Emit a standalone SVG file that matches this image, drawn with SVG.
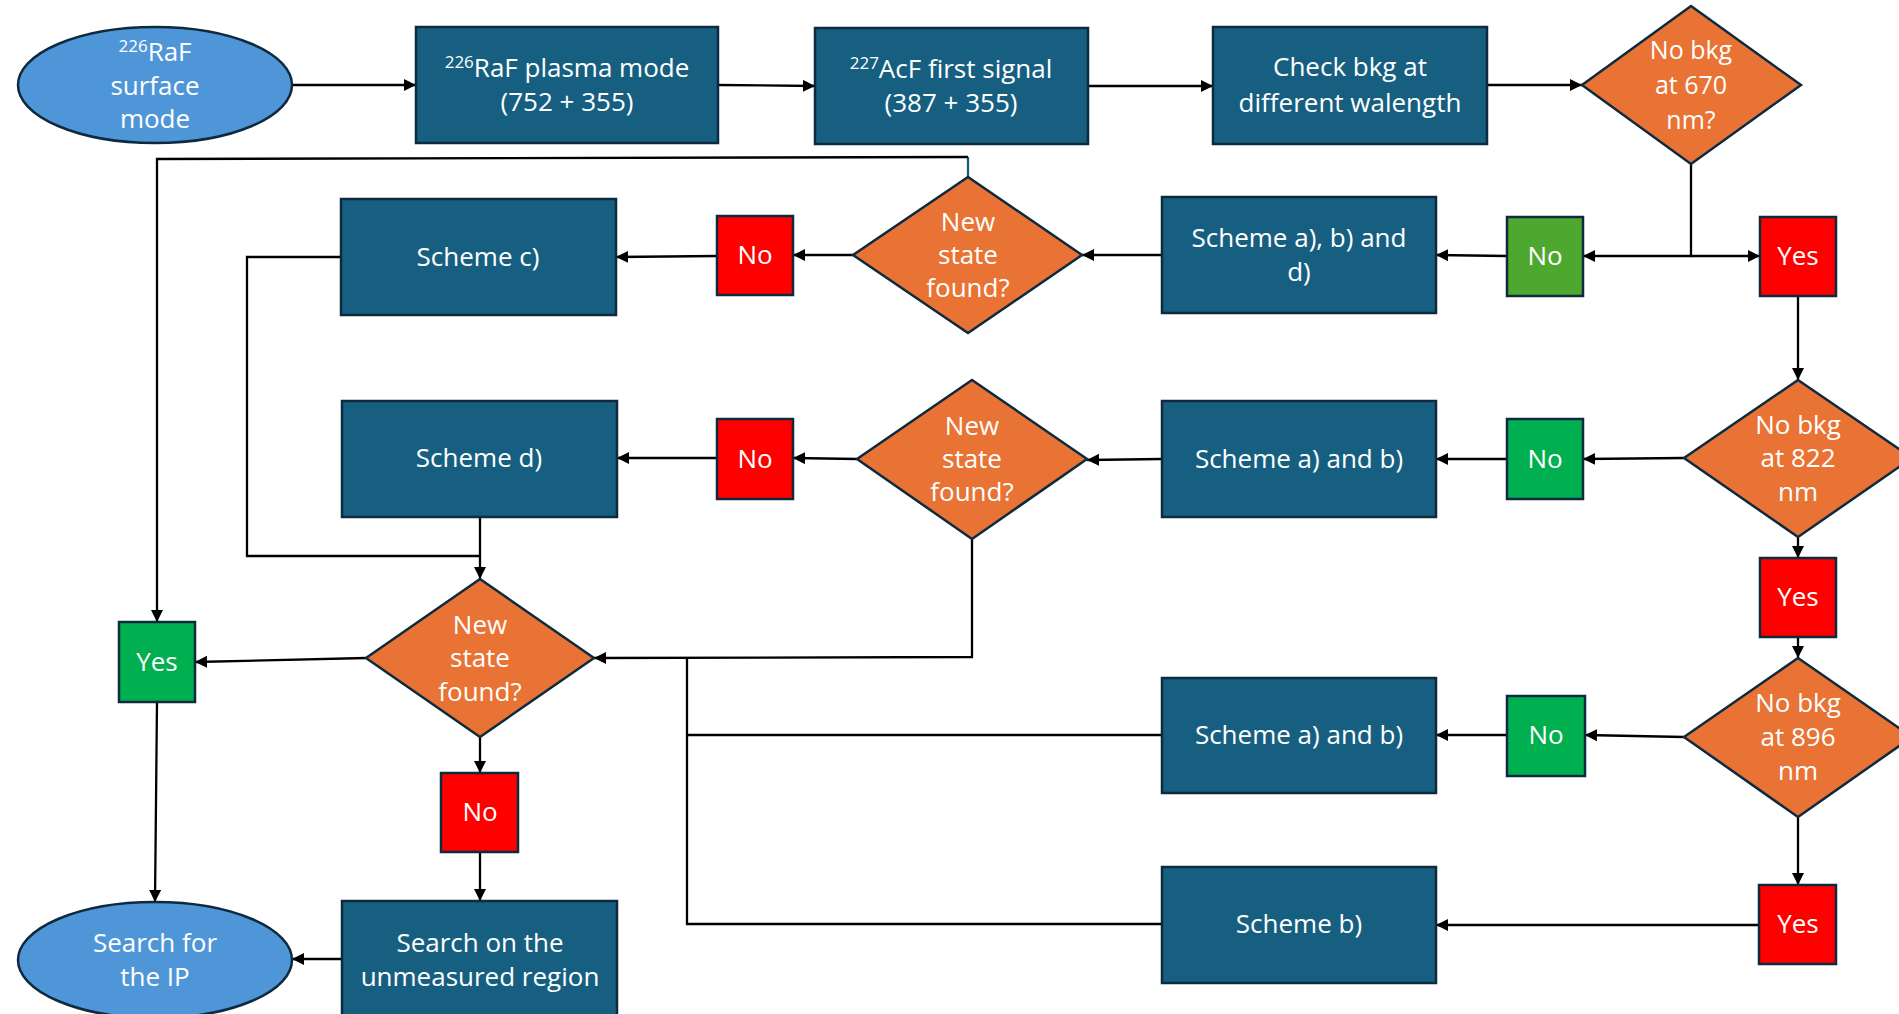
<svg xmlns="http://www.w3.org/2000/svg" width="1899" height="1014" viewBox="0 0 1899 1014">
<style>
.box{fill:#175F81;stroke:#0E2A3F;stroke-width:2.5}
.dia{fill:#E97334;stroke:#0E2A3F;stroke-width:2.5}
.ell{fill:#4F96D9;stroke:#0E2A3F;stroke-width:2.5}
.red{fill:#FF0000;stroke:#0E2A3F;stroke-width:2.5}
.grn{fill:#00B050;stroke:#0E2A3F;stroke-width:2.5}
.olv{fill:#4EA72E;stroke:#0E2A3F;stroke-width:2.5}
text{font-family:"Open Sans","Liberation Sans",sans-serif;font-size:26px;fill:#FFFFFF;text-anchor:middle}
.sup{font-size:17px}
.sm{font-size:25px}
.c{fill:none;stroke:#000;stroke-width:2.3}
.a{marker-end:url(#arr)}
</style>
<defs>
<marker id="arr" markerUnits="userSpaceOnUse" markerWidth="13" markerHeight="13" refX="12" refY="6" orient="auto">
<path d="M0,0 L12,6 L0,12 z" fill="#000"/>
</marker>
</defs>
<rect width="1899" height="1014" fill="#FFFFFF"/>

<g id="connectors">
<path class="c a" d="M292,85 H416"/>
<path class="c a" d="M718,85 L815,86"/>
<path class="c a" d="M1088,86 H1213"/>
<path class="c a" d="M1487,85 H1582"/>
<path class="c a" d="M1691,164 V256 H1583"/>
<path class="c a" d="M1691,256 H1760"/>
<path class="c a" d="M1507,256 L1436,255"/>
<path class="c a" d="M1162,255 H1082"/>
<path class="c a" d="M853,255 H793"/>
<path class="c a" d="M717,256 L616,257"/>
<path class="c" d="M341,257 H247 V556 H480"/>
<path fill="none" stroke="#175F81" stroke-width="2.3" d="M968,177 V157"/>
<path class="c a" d="M968,157 L157,159 V622"/>
<path class="c a" d="M1798,296 V380"/>
<path class="c a" d="M1684,458 L1583,459"/>
<path class="c a" d="M1507,459 H1436"/>
<path class="c a" d="M1162,459 L1087,460"/>
<path class="c a" d="M857,459 L793,458"/>
<path class="c a" d="M717,458 H617"/>
<path class="c a" d="M480,517 V579"/>
<path class="c a" d="M366,658 L195,662"/>
<path class="c a" d="M972,539 V657 L594,658"/>
<path class="c" d="M1162,735 H687"/>
<path class="c" d="M1162,924 H687 V657"/>
<path class="c a" d="M1798,537 V558"/>
<path class="c a" d="M1798,637 V658"/>
<path class="c a" d="M1684,737 L1585,735"/>
<path class="c a" d="M1507,735 H1436"/>
<path class="c a" d="M1798,817 V885"/>
<path class="c a" d="M1759,925 H1436"/>
<path class="c a" d="M480,737 V773"/>
<path class="c a" d="M480,852 V901"/>
<path class="c a" d="M342,959 H292"/>
<path class="c a" d="M157,702 L155,902"/>
</g>

<g id="n-raf-surface">
<ellipse class="ell" cx="155" cy="85" rx="137" ry="58"/>
<text x="155" y="61"><tspan class="sup" dy="-9">226</tspan><tspan dy="9">RaF</tspan></text>
<text x="155" y="95">surface</text>
<text x="155" y="128">mode</text>
</g>

<g id="n-plasma">
<rect class="box" x="416" y="27" width="302" height="116"/>
<text x="567" y="77"><tspan class="sup" dy="-9">226</tspan><tspan dy="9">RaF plasma mode</tspan></text>
<text x="567" y="111">(752 + 355)</text>
</g>

<g id="n-acf">
<rect class="box" x="815" y="28" width="273" height="116"/>
<text x="951" y="78"><tspan class="sup" dy="-9">227</tspan><tspan dy="9">AcF first signal</tspan></text>
<text x="951" y="112">(387 + 355)</text>
</g>

<g id="n-check">
<rect class="box" x="1213" y="27" width="274" height="117"/>
<text x="1350" y="76">Check bkg at</text>
<text x="1350" y="112">different walength</text>
</g>

<g id="n-bkg670">
<polygon class="dia" points="1691,6 1801,85 1691,164 1582,85"/>
<text class="sm" x="1691" y="59">No bkg</text>
<text class="sm" x="1691" y="94">at 670</text>
<text class="sm" x="1691" y="129">nm?</text>
</g>

<g id="n-no670">
<rect class="olv" x="1507" y="217" width="76" height="79"/>
<text x="1545" y="265">No</text>
</g>

<g id="n-yes670">
<rect class="red" x="1760" y="217" width="76" height="79"/>
<text x="1798" y="265">Yes</text>
</g>

<g id="n-scheme-abd">
<rect class="box" x="1162" y="197" width="274" height="116"/>
<text x="1299" y="247">Scheme a), b) and</text>
<text x="1299" y="281">d)</text>
</g>

<g id="n-new1">
<polygon class="dia" points="968,177 1082,255 968,333 853,255"/>
<text x="968" y="231">New</text>
<text x="968" y="264">state</text>
<text x="968" y="297">found?</text>
</g>

<g id="n-no1">
<rect class="red" x="717" y="216" width="76" height="79"/>
<text x="755" y="264">No</text>
</g>

<g id="n-scheme-c">
<rect class="box" x="341" y="199" width="275" height="116"/>
<text x="478" y="266">Scheme c)</text>
</g>

<g id="n-bkg822">
<polygon class="dia" points="1798,380 1912,458 1798,537 1684,458"/>
<text x="1798" y="434">No bkg</text>
<text x="1798" y="467">at 822</text>
<text x="1798" y="501">nm</text>
</g>

<g id="n-no822">
<rect class="grn" x="1507" y="419" width="76" height="80"/>
<text x="1545" y="468">No</text>
</g>

<g id="n-scheme-ab1">
<rect class="box" x="1162" y="401" width="274" height="116"/>
<text x="1299" y="468">Scheme a) and b)</text>
</g>

<g id="n-new2">
<polygon class="dia" points="972,380 1087,459 972,539 857,459"/>
<text x="972" y="435">New</text>
<text x="972" y="468">state</text>
<text x="972" y="501">found?</text>
</g>

<g id="n-no2">
<rect class="red" x="717" y="419" width="76" height="80"/>
<text x="755" y="468">No</text>
</g>

<g id="n-scheme-d">
<rect class="box" x="342" y="401" width="275" height="116"/>
<text x="479" y="467">Scheme d)</text>
</g>

<g id="n-yes822">
<rect class="red" x="1760" y="558" width="76" height="79"/>
<text x="1798" y="606">Yes</text>
</g>

<g id="n-new3">
<polygon class="dia" points="480,579 594,658 480,737 366,658"/>
<text x="480" y="634">New</text>
<text x="480" y="667">state</text>
<text x="480" y="701">found?</text>
</g>

<g id="n-yes-found">
<rect class="grn" x="119" y="622" width="76" height="80"/>
<text x="157" y="671">Yes</text>
</g>

<g id="n-bkg896">
<polygon class="dia" points="1798,658 1912,737 1798,817 1684,737"/>
<text x="1798" y="712">No bkg</text>
<text x="1798" y="746">at 896</text>
<text x="1798" y="780">nm</text>
</g>

<g id="n-no896">
<rect class="grn" x="1507" y="696" width="78" height="80"/>
<text x="1546" y="744">No</text>
</g>

<g id="n-scheme-ab2">
<rect class="box" x="1162" y="678" width="274" height="115"/>
<text x="1299" y="744">Scheme a) and b)</text>
</g>

<g id="n-yes896">
<rect class="red" x="1759" y="885" width="77" height="79"/>
<text x="1798" y="933">Yes</text>
</g>

<g id="n-scheme-b">
<rect class="box" x="1162" y="867" width="274" height="116"/>
<text x="1299" y="933">Scheme b)</text>
</g>

<g id="n-no3">
<rect class="red" x="441" y="773" width="77" height="79"/>
<text x="480" y="821">No</text>
</g>

<g id="n-search-region">
<rect class="box" x="342" y="901" width="275" height="118"/>
<text x="480" y="952">Search on the</text>
<text x="480" y="986">unmeasured region</text>
</g>

<g id="n-search-ip">
<ellipse class="ell" cx="155" cy="960" rx="137" ry="58"/>
<text x="155" y="952">Search for</text>
<text x="155" y="986">the IP</text>
</g>
</svg>
